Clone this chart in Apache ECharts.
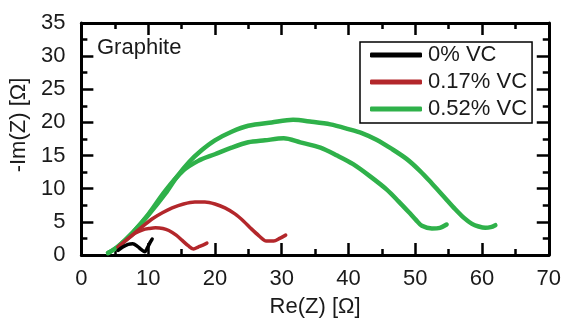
<!DOCTYPE html>
<html>
<head>
<meta charset="utf-8">
<script src="https://cdn.jsdelivr.net/npm/echarts@6/dist/echarts.min.js"></script>
<style>
  html, body { margin: 0; padding: 0; background: #fff; }
  #chart { width: 564px; height: 323px; }
</style>
</head>
<body>
<div id="chart"></div>
<script>
// Nyquist plots of graphite electrodes at three VC contents: [Re(Z), -Im(Z)] in ohm
const seriesNames = ['0% VC', '0.17% VC', '0.52% VC'];
const seriesColors = ['#000000', '#b3272b', '#2fb14a'];

const vc0 = [
  [5.5, 0.7], [6.2, 1.2], [7.0, 1.6], [7.7, 1.7], [8.4, 1.3], [9.0, 0.8],
  [9.5, 0.5], [9.9, 1.1], [10.3, 1.9], [10.6, 2.4]
];

const vc017Outer = [
  [5.5, 1.2], [6.8, 2.3], [8.1, 3.4], [9.4, 4.5], [10.7, 5.5], [12.2, 6.4],
  [13.6, 7.1], [15.3, 7.7], [17.0, 8.0], [18.5, 8.0], [20.0, 7.7], [21.5, 7.1],
  [23.0, 6.2], [24.3, 5.1], [25.4, 4.0], [26.6, 2.9], [27.7, 2.1], [28.8, 2.1],
  [29.7, 2.5], [30.6, 3.0]
];

const vc017Inner = [
  [5.5, 1.2], [6.8, 2.3], [8.1, 3.3], [9.2, 3.8], [10.2, 4.0], [11.1, 4.1],
  [12.2, 4.0], [13.1, 3.7], [14.2, 3.0], [15.1, 2.2], [16.0, 1.4], [16.8, 0.9],
  [17.5, 1.2], [18.2, 1.5], [18.8, 1.8]
];

const vc052Outer = [
  [4.0, 0.3], [5.5, 1.3], [7.7, 3.4], [10.0, 6.0], [12.6, 9.3], [14.3, 11.8],
  [16.1, 14.0], [18.0, 15.8], [20.0, 17.3], [22.5, 18.6], [25.0, 19.5],
  [28.5, 20.0], [31.7, 20.4], [34.5, 20.1], [37.3, 19.7], [40.0, 19.0],
  [42.0, 18.4], [44.2, 17.4], [46.5, 16.0], [48.7, 14.5], [50.7, 12.7],
  [52.5, 10.8], [54.3, 8.8], [56.0, 6.9], [57.3, 5.6], [58.5, 4.7], [59.5, 4.3],
  [60.5, 4.1], [61.3, 4.2], [62.0, 4.5]
];

const vc052Inner = [
  [4.0, 0.3], [5.5, 1.3], [7.7, 3.4], [10.0, 6.1], [12.5, 9.6], [15.1, 12.6],
  [17.5, 14.2], [20.0, 15.2], [22.5, 16.2], [25.0, 17.0], [27.5, 17.3],
  [30.3, 17.6], [32.8, 17.0], [35.8, 16.2], [38.3, 15.0], [40.7, 13.7],
  [43.2, 11.9], [45.7, 9.9], [47.5, 8.1], [49.1, 6.4], [50.1, 5.3], [51.0, 4.4],
  [52.5, 4.0], [53.7, 4.1], [54.7, 4.6]
];

const FONT = '"Liberation Sans", Arial, sans-serif';
const TEXT = '#1a1a1a';

function axisBase(extra) {
  return Object.assign({
    type: 'value',
    axisLine: { show: true, onZero: false, lineStyle: { color: '#000', width: 3 } },
    axisTick: { show: true, inside: true, length: 12, lineStyle: { color: '#000', width: 2.5 } },
    minorTick: { show: true, splitNumber: 2, length: 6, lineStyle: { color: '#000', width: 2.5 } },
    splitLine: { show: false },
    minorSplitLine: { show: false }
  }, extra);
}

function curve(name, data, color, width) {
  return {
    name: name,
    type: 'line',
    data: data,
    showSymbol: false,
    smooth: 0.3,
    color: color,
    lineStyle: { color: color, width: width, cap: 'round', join: 'round' },
    emphasis: { disabled: true },
    silent: true
  };
}

const chart = echarts.init(document.getElementById('chart'), null, { renderer: 'canvas' });

chart.setOption({
  animation: false,
  backgroundColor: '#ffffff',
  grid: { left: 78, right: 12, top: 23, bottom: 63 },
  xAxis: [
    axisBase({
      min: 0, max: 70, interval: 10,
      position: 'bottom',
      name: 'Re(Z) [Ω]',
      nameLocation: 'middle',
      nameGap: 41,
      nameTextStyle: { fontFamily: FONT, fontSize: 22, color: TEXT },
      axisLabel: { fontFamily: FONT, fontSize: 22, color: TEXT, margin: 13 }
    }),
    axisBase({
      min: 0, max: 70, interval: 10,
      position: 'top',
      axisLabel: { show: false }
    })
  ],
  yAxis: [
    axisBase({
      min: 0, max: 35, interval: 5,
      position: 'left',
      name: '-Im(Z) [Ω]',
      nameLocation: 'middle',
      nameGap: 47,
      nameTextStyle: { fontFamily: FONT, fontSize: 22, color: TEXT, padding: [0, 0, 0, 28] },
      axisLabel: { fontFamily: FONT, fontSize: 22, color: TEXT, margin: 16 }
    }),
    axisBase({
      min: 0, max: 35, interval: 5,
      position: 'right',
      axisLabel: { show: false }
    })
  ],
  legend: {
    data: seriesNames,
    orient: 'vertical',
    left: 360,
    top: 42,
    padding: [2, 5, 3, 10],
    itemGap: 5,
    itemWidth: 52,
    itemHeight: 5,
    icon: 'roundRect',
    borderColor: '#000',
    borderWidth: 1.5,
    backgroundColor: '#fff',
    textStyle: { fontFamily: FONT, fontSize: 22, color: TEXT, padding: [0, 0, 0, 1] }
  },
  graphic: [
    {
      type: 'text',
      left: 97,
      top: 37,
      style: { text: 'Graphite', font: '22px ' + FONT, fill: TEXT }
    }
  ],
  series: [
    curve(seriesNames[2], vc052Outer, seriesColors[2], 4.5),
    curve(seriesNames[2], vc052Inner, seriesColors[2], 4.5),
    curve(seriesNames[1], vc017Outer, seriesColors[1], 3.5),
    curve(seriesNames[1], vc017Inner, seriesColors[1], 3.5),
    curve(seriesNames[0], vc0, seriesColors[0], 3.5)
  ]
});
</script>
</body>
</html>
